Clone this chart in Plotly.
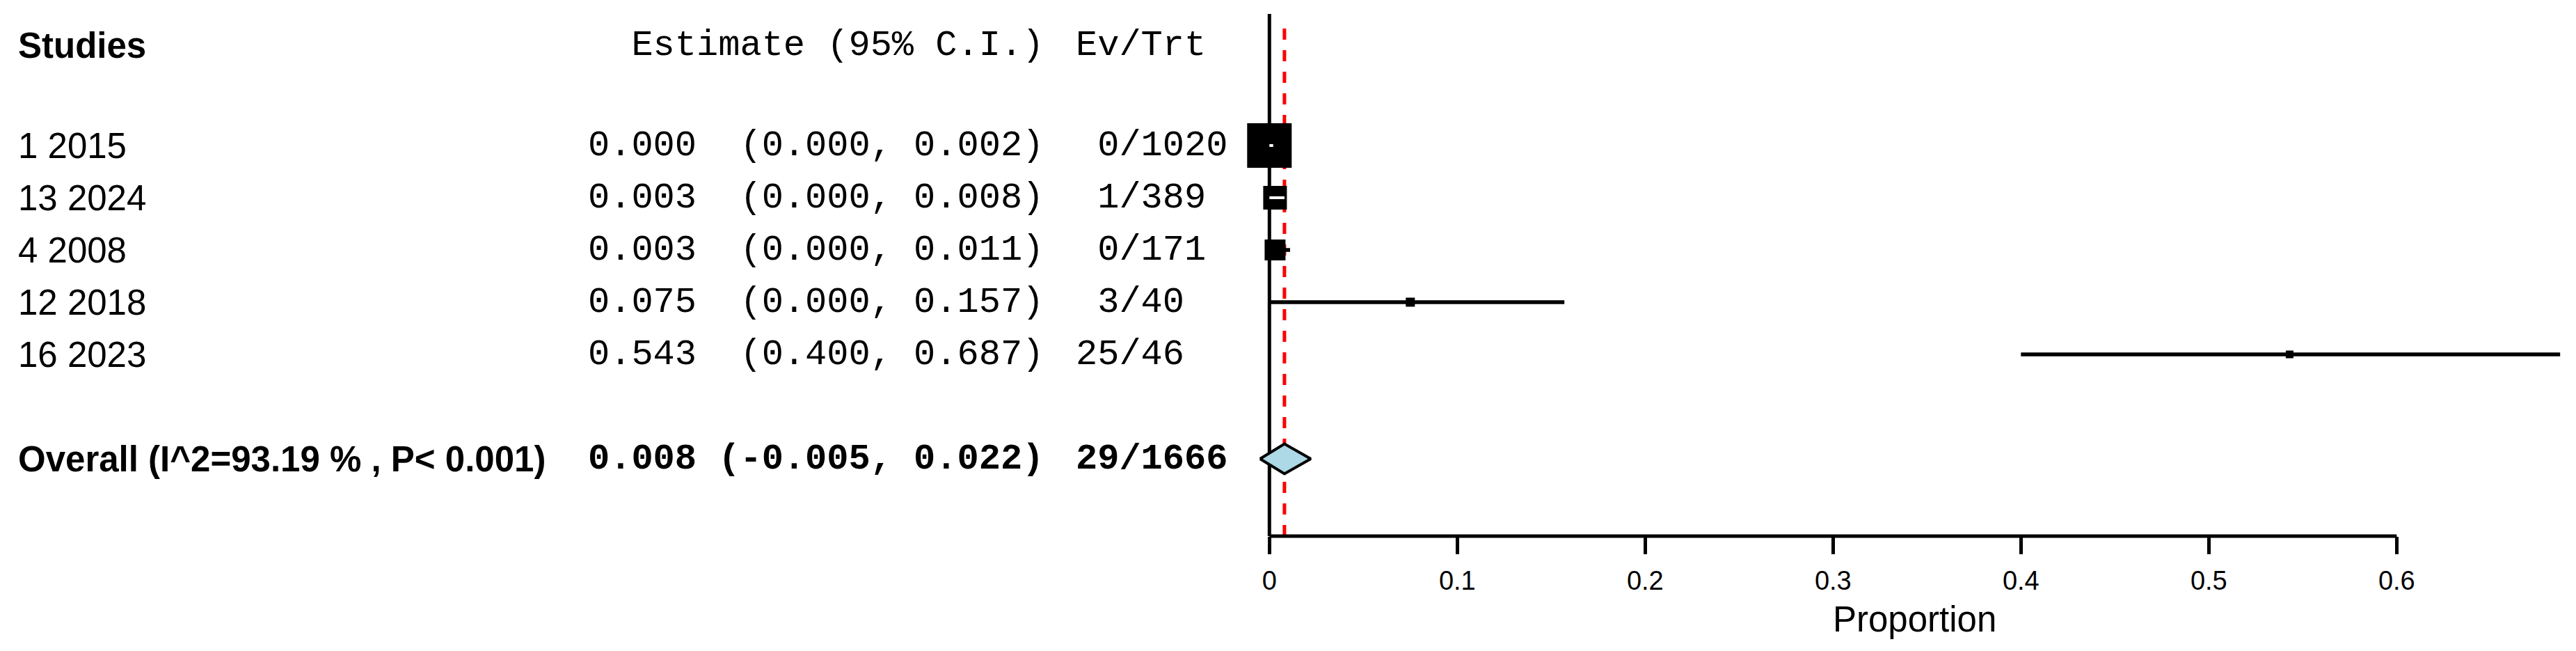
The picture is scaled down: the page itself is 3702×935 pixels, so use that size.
import plotly.graph_objects as go

# ---------------- data ----------------
studies = ["1 2015", "13 2024", "4 2008", "12 2018", "16 2023"]
estimates = [0.000, 0.003, 0.003, 0.075, 0.543]
ci_low = [0.000, 0.000, 0.000, 0.000, 0.400]
ci_high = [0.002, 0.008, 0.011, 0.157, 0.687]
events = [0, 1, 0, 3, 25]
totals = [1020, 389, 171, 40, 46]

overall_label = "Overall (I^2=93.19 % , P< 0.001)"
overall_est = 0.008
overall_low = -0.005
overall_high = 0.022
overall_events = 29
overall_total = 1666

tick_values = [0, 0.1, 0.2, 0.3, 0.4, 0.5, 0.6]
tick_labels = ["0", "0.1", "0.2", "0.3", "0.4", "0.5", "0.6"]

header_study = "Studies"
header_est = "Estimate (95% C.I.)"
header_evt = "Ev/Trt"
axis_title = "Proportion"

# ---------------- layout / style constants ----------------
PAGE_W, PAGE_H = 3702, 935
BODY_MARGIN = 8                      # default page margin around the figure div
W, H = PAGE_W - 2 * BODY_MARGIN, PAGE_H - 2 * BODY_MARGIN

def fx(page_px):                     # page pixel -> figure pixel
    return page_px - BODY_MARGIN

ZERO_PX = fx(1824.3)      # pixel of x = 0
PX_PER_UNIT = 2700.0      # pixels per 1.0 of proportion
PLOT_TOP_PX = fx(20)
PLOT_BOTTOM_PX = fx(770)
ROW1_PX = fx(209)
ROW_STEP = 75
box_px = [64, 34, 30, 13, 11]   # marker side lengths (style)
DIAMOND_HALF_H = 0.285
CI_WIDTH = 5.5
AXIS_WIDTH = 5

SANS = "Liberation Sans, Arial, sans-serif"
MONO = "Liberation Mono, Courier New, monospace"
SANS_SIZE = 51
MONO_SIZE = 52

STUDY_X_PX = fx(24)
EST_X_PX = fx(843)
EVT_X_PX = fx(1544)
TITLE_Y_PX = fx(890)

row0 = (ROW1_PX - ROW_STEP)  # pixel of row index 0
def row_of_px(px):
    return (px - row0) / ROW_STEP

x_range = [-ZERO_PX / PX_PER_UNIT, (W - ZERO_PX) / PX_PER_UNIT]
y_range = [row_of_px(PLOT_BOTTOM_PX), row_of_px(PLOT_TOP_PX)]

n = len(studies)
study_rows = [i + 1 for i in range(n)]
overall_row = n + 2
header_row = -0.92

def nb(s):
    return s.replace(" ", "\u00a0")

def est_text(e, l, h):
    return f"{e:.3f} " + f"({l:.3f},".rjust(8) + f" {h:.3f})"

def evt_text(ev, tot):
    return f"{ev:>2}/{tot}"

fig = go.Figure()

# CI lines (black) where they extend beyond the box, white when inside the box
black_x, black_y, white_x, white_y = [], [], [], []
for e, l, h, r, b in zip(estimates, ci_low, ci_high, study_rows, box_px):
    half = b / 2 / PX_PER_UNIT
    if l >= e - half and h <= e + half:
        white_x += [l, h, None]
        white_y += [r, r, None]
    else:
        black_x += [l, h, None]
        black_y += [r, r, None]

fig.add_trace(go.Scatter(x=black_x, y=black_y, mode="lines",
                         line=dict(color="black", width=CI_WIDTH),
                         hoverinfo="skip", showlegend=False))
fig.add_trace(go.Scatter(x=estimates, y=study_rows, mode="markers",
                         marker=dict(symbol="square", size=box_px, color="#000000",
                                     opacity=1, line=dict(width=0)),
                         hoverinfo="skip", showlegend=False))
fig.add_trace(go.Scatter(x=white_x, y=white_y, mode="lines",
                         line=dict(color="white", width=4),
                         hoverinfo="skip", showlegend=False))

# overall diamond
fig.add_trace(go.Scatter(
    x=[overall_low, overall_est, overall_high, overall_est, overall_low],
    y=[overall_row, overall_row - DIAMOND_HALF_H, overall_row,
       overall_row + DIAMOND_HALF_H, overall_row],
    mode="lines", fill="toself", fillcolor="#ADD8E6",
    line=dict(color="black", width=4),
    hoverinfo="skip", showlegend=False))

# reference lines
fig.add_shape(type="line", xref="x", yref="paper", x0=0, x1=0, y0=0, y1=1,
              line=dict(color="black", width=AXIS_WIDTH), layer="below")
fig.add_shape(type="line", xref="x", yref="paper", x0=overall_est, x1=overall_est,
              y0=0, y1=0.975, line=dict(color="red", width=5, dash="16px,15px"),
              layer="below")
# bottom axis line spanning the ticks
fig.add_shape(type="line", xref="x", yref="paper", x0=tick_values[0], x1=tick_values[-1],
              y0=0, y1=0, line=dict(color="black", width=AXIS_WIDTH), layer="above")

# ---------------- text columns ----------------
ann = []
def add_text(x_px, row, text, font, size, bold=False):
    ann.append(dict(xref="paper", yref="y", x=x_px / W, y=row, text=nb(text),
                    showarrow=False, xanchor="left", yanchor="middle",
                    font=dict(family=font, size=size, color="black",
                              weight="bold" if bold else "normal")))

add_text(STUDY_X_PX, header_row, header_study, SANS, SANS_SIZE, bold=True)
add_text(EST_X_PX, header_row, "  " + header_est, MONO, MONO_SIZE)
add_text(EVT_X_PX, header_row, header_evt, MONO, MONO_SIZE)

for s, e, l, h, ev, tot, r in zip(studies, estimates, ci_low, ci_high, events, totals, study_rows):
    add_text(STUDY_X_PX, r, s, SANS, SANS_SIZE)
    add_text(EST_X_PX, r, est_text(e, l, h), MONO, MONO_SIZE)
    add_text(EVT_X_PX, r, evt_text(ev, tot), MONO, MONO_SIZE)

add_text(STUDY_X_PX, overall_row, overall_label, SANS, SANS_SIZE, bold=True)
add_text(EST_X_PX, overall_row, est_text(overall_est, overall_low, overall_high), MONO, MONO_SIZE, bold=True)
add_text(EVT_X_PX, overall_row, evt_text(overall_events, overall_total), MONO, MONO_SIZE, bold=True)

# axis title centred over the plotted range
title_x = (max(0, min(ci_low)) + max(ci_high)) / 2
ann.append(dict(xref="x", yref="paper", x=title_x,
                y=(PLOT_BOTTOM_PX - TITLE_Y_PX) / (PLOT_BOTTOM_PX - PLOT_TOP_PX),
                text=axis_title, showarrow=False, xanchor="center", yanchor="middle",
                font=dict(family=SANS, size=SANS_SIZE, color="black")))

fig.update_layout(
    width=W, height=H, autosize=False,
    margin=dict(l=0, r=0, t=PLOT_TOP_PX, b=H - PLOT_BOTTOM_PX, pad=0),
    paper_bgcolor="white", plot_bgcolor="white",
    annotations=ann, showlegend=False,
    xaxis=dict(range=x_range, showgrid=False, zeroline=False, showline=False,
               tickmode="array", tickvals=tick_values, ticktext=tick_labels,
               ticks="outside", ticklen=25, tickwidth=AXIS_WIDTH, tickcolor="black",
               ticklabelstandoff=5,
               tickfont=dict(family=SANS, size=38, color="black"),
               fixedrange=True),
    yaxis=dict(range=y_range, showgrid=False, zeroline=False, showline=False,
               showticklabels=False, ticks="", fixedrange=True),
)

fig.write_html("out.html")
